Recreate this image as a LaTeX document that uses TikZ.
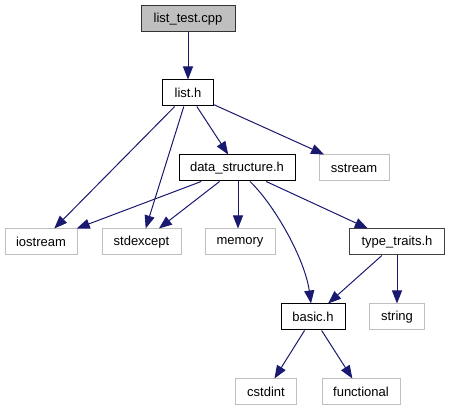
\documentclass[tikz,border=0pt]{standalone}
\usepackage{fontspec}
\setmainfont{Liberation Sans}
\usepackage{tikz}
\usetikzlibrary{arrows.meta}

\definecolor{edgeblue}{HTML}{191970}
\definecolor{extgray}{HTML}{BFBFBF}

\begin{document}
\begin{tikzpicture}[
  x=1pt, y=-1pt,
  font=\fontsize{13}{15}\selectfont,
  docbox/.style={draw=black, line width=1pt, fill=white, minimum height=26pt, inner sep=0pt},
  rootbox/.style={docbox, draw=black!80, fill=extgray},
  extbox/.style={draw=extgray, line width=1pt, fill=white, minimum height=26pt, inner sep=0pt},
  dep/.style={draw=edgeblue, line width=1pt, -{Triangle[length=13pt, width=10pt]}},
]
\useasboundingbox (0,0) rectangle (450,411);
\node[rootbox, minimum width=94pt] (root) at (188,19) {list\_test.cpp};
\node[docbox, minimum width=51pt] (lh) at (188,93) {list.h};
\node[docbox, minimum width=116pt] (ds) at (237,168) {data\_structure.h};
\node[extbox, minimum width=70pt] (ss) at (354,168) {sstream};
\node[extbox, minimum width=72pt] (io) at (41,242) {iostream};
\node[extbox, minimum width=79pt] (se) at (141.5,242) {stdexcept};
\node[extbox, minimum width=70pt] (mem) at (240,242) {memory};
\node[docbox, draw=black!75, minimum width=95pt] (tt) at (397,242) {type\_traits.h};
\node[docbox, minimum width=64pt] (bh) at (313,317) {basic.h};
\node[extbox, minimum width=55pt] (str) at (397,317) {string};
\node[extbox, minimum width=61pt] (ci) at (266,392) {cstdint};
\node[extbox, minimum width=78pt] (fn) at (361,392) {functional};
% includes
\draw[dep] (root) -- (lh);
\draw[dep] (lh) -- (io);
\draw[dep] (lh) -- (se);
\draw[dep] (lh) -- (ds);
\draw[dep] (lh) -- (ss);
\draw[dep] (ds) -- (io);
\draw[dep] (ds) -- (se);
\draw[dep] ([xshift=1pt]ds.south) -- ([xshift=-2pt]mem.north);
\draw[dep] ([xshift=13pt]ds.south) .. controls +(25,24) and +(-6,-44) .. ([xshift=-2pt]bh.north);
\draw[dep] (ds) -- (tt);
\draw[dep] (tt) -- (bh);
\draw[dep] (tt) -- (str);
\draw[dep] (bh) -- (ci);
\draw[dep] (bh) -- (fn);
\end{tikzpicture}
\end{document}
